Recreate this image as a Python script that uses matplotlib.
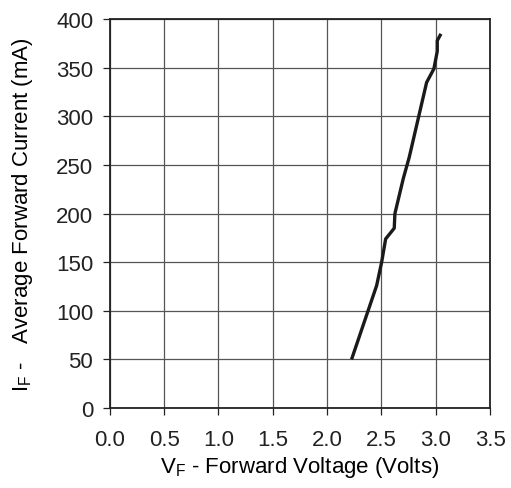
import numpy as np
import matplotlib.pyplot as plt

# forward voltage (V) vs average forward current (mA)
volts = [2.225, 2.456, 2.502, 2.539, 2.618, 2.624, 2.701, 2.756, 2.916, 2.983, 3.014, 3.014, 3.048]
current = [50, 126, 150, 174, 185, 200, 236, 258, 335, 349, 367, 378, 385]

x_ticks = np.arange(0, 3.51, 0.5)
y_ticks = np.arange(0, 401, 50)

plt.rcParams['font.family'] = 'Liberation Sans'

fig = plt.figure(figsize=(5.11, 4.89), dpi=100)
ax = fig.add_axes([0.215, 0.1636, 0.744, 0.795])

ax.plot(volts, current, color='#1a1a1a', linewidth=2.4, solid_capstyle='butt')

ax.set_xlim(0, 3.5)
ax.set_ylim(0, 400)
ax.set_xticks(x_ticks)
ax.set_xticklabels(['%.1f' % v for v in x_ticks])
ax.set_yticks(y_ticks)
ax.grid(True, color='#555555', linewidth=0.9)
ax.set_axisbelow(True)

for s in ax.spines.values():
    s.set_linewidth(1.3)
    s.set_color('#222222')

ax.tick_params(axis='both', direction='out', length=5, width=0.9, labelsize=16, colors='#222222')
ax.tick_params(axis='y', pad=7)
ax.tick_params(axis='x', pad=10)

ax.set_xlabel(r'V$_\mathregular{F}$ - Forward Voltage (Volts)', fontsize=16, labelpad=3)
ax.set_ylabel(r'I$_\mathregular{F}$ -   Average Forward Current (mA)', fontsize=16, labelpad=15)

fig.savefig('out.png', dpi=100)
